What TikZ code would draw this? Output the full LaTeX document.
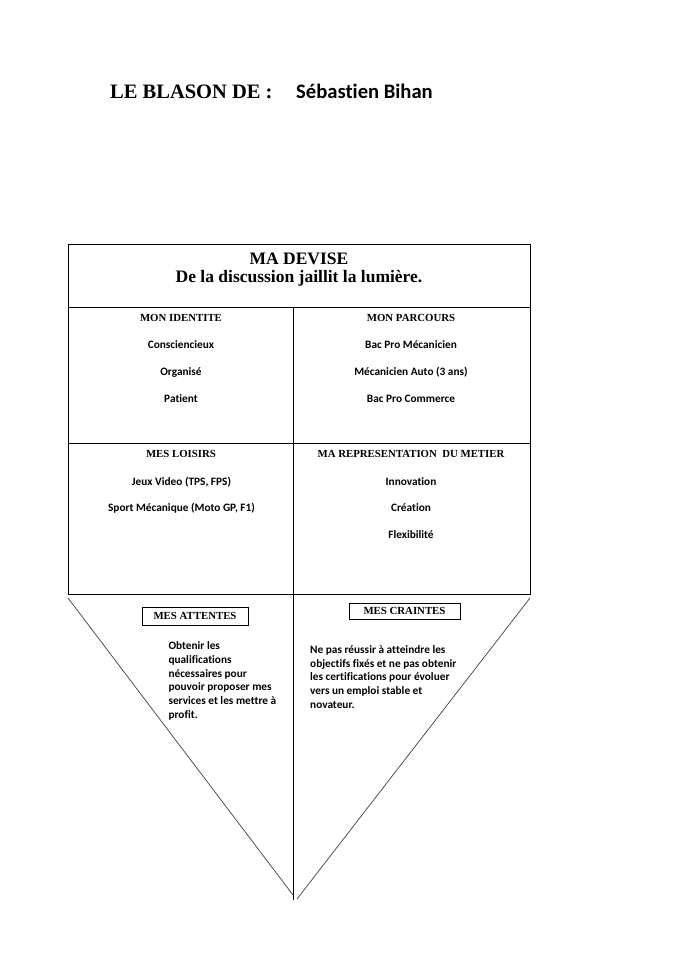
\documentclass[tikz,border=0pt]{standalone}
\usepackage{fontspec}
\setmainfont{Liberation Serif}
\newfontfamily\calfont{Carlito}[Ligatures=NoCommon]
\begin{document}
\begin{tikzpicture}[x=1pt,y=-1pt,
  frame/.style={line width=0.9pt, draw=black},
  diag/.style={line width=0.7pt, draw=black!75},
  head/.style={font=\fontsize{10.8}{13}\selectfont\bfseries, anchor=base, inner sep=0pt},
  item/.style={font=\calfont\fontsize{11.3}{13}\selectfont\bfseries, anchor=base, inner sep=0pt},
  para/.style={font=\calfont\fontsize{11.3}{13.7}\selectfont\bfseries, align=left, anchor=base west, inner sep=0pt},
  tagbox/.style={draw=black, line width=0.8pt, font=\fontsize{10.8}{13}\selectfont\bfseries, inner sep=0pt}
]
\useasboundingbox (0,0) rectangle (676,956);
\fill[white] (0,0) rectangle (676,956);

% title
\node[anchor=base west, font=\fontsize{20.5}{24}\selectfont\bfseries, inner sep=0pt] (t1) at (110,98) {LE BLASON DE :};
\node[anchor=base west, font=\calfont\fontsize{20.6}{24}\selectfont\bfseries, inner sep=0pt] (t2) at (296,98) {Sébastien Bihan};

% frame coordinates
\coordinate (TL) at (68,244);
\coordinate (BR) at (530,594);
\coordinate (DL) at (68,307);
\coordinate (DR) at (530,307);
\coordinate (ML) at (68,443);
\coordinate (MR) at (530,443);
\coordinate (VT) at (293,307);
\coordinate (VB) at (293,900);
\coordinate (AL) at (68,598);
\coordinate (AR) at (530,598);
\coordinate (PL) at (293,895);
\coordinate (PR) at (297,899);

\draw[frame] (TL) rectangle (BR);
\draw[frame] (DL) -- (DR);
\draw[frame] (ML) -- (MR);
\draw[frame] (VT) -- (VB);
\draw[diag] (AL) -- (PL);
\draw[diag] (AR) -- (PR);

% devise
\node[anchor=base, font=\fontsize{17.5}{20}\selectfont\bfseries, inner sep=0pt] (devise) at (299,264.3) {MA DEVISE};
\node[anchor=base, font=\fontsize{17.5}{20}\selectfont\bfseries, inner sep=0pt] (motto) at (299,282.7) {De la discussion jaillit la lumière.};

% identite
\node[head] (h1) at (181,321.7) {MON IDENTITE};
\node[item] (i11) at (181,348.3) {Consciencieux};
\node[item] (i12) at (181,375) {Organisé};
\node[item] (i13) at (181,402.7) {Patient};

% parcours
\node[head] (h2) at (411,321.7) {MON PARCOURS};
\node[item] (i21) at (411,348.3) {Bac Pro Mécanicien};
\node[item] (i22) at (411,375) {Mécanicien Auto (3 ans)};
\node[item] (i23) at (411,402.7) {Bac Pro Commerce};

% loisirs
\node[head] (h3) at (181,457.7) {MES LOISIRS};
\node[item] (i31) at (181.5,485) {Jeux Video (TPS, FPS)};
\node[item] (i32) at (181.5,511.7) {Sport Mécanique (Moto GP, F1)};

% representation
\node[head] (h4) at (411,457.7) {MA REPRESENTATION\ \ DU METIER};
\node[item] (i41) at (411,485) {Innovation};
\node[item] (i42) at (411,511.7) {Création};
\node[item] (i43) at (411,538.3) {Flexibilité};

% attentes / craintes
\node[tagbox, minimum width=106pt, minimum height=18pt] (att) at (195,616) {MES ATTENTES};
\node[tagbox, minimum width=111pt, minimum height=16pt] (cra) at (404.5,611) {MES CRAINTES};

\node[para] (attxt) at (168.3,718.3) {Obtenir les\\qualifications\\nécessaires pour\\pouvoir proposer mes\\services et les mettre à\\profit.};
\node[para] (cratxt) at (310,708.3) {Ne pas réussir à atteindre les\\objectifs fixés et ne pas obtenir\\les certifications pour évoluer\\vers un emploi stable et\\novateur.};
\end{tikzpicture}
\end{document}
